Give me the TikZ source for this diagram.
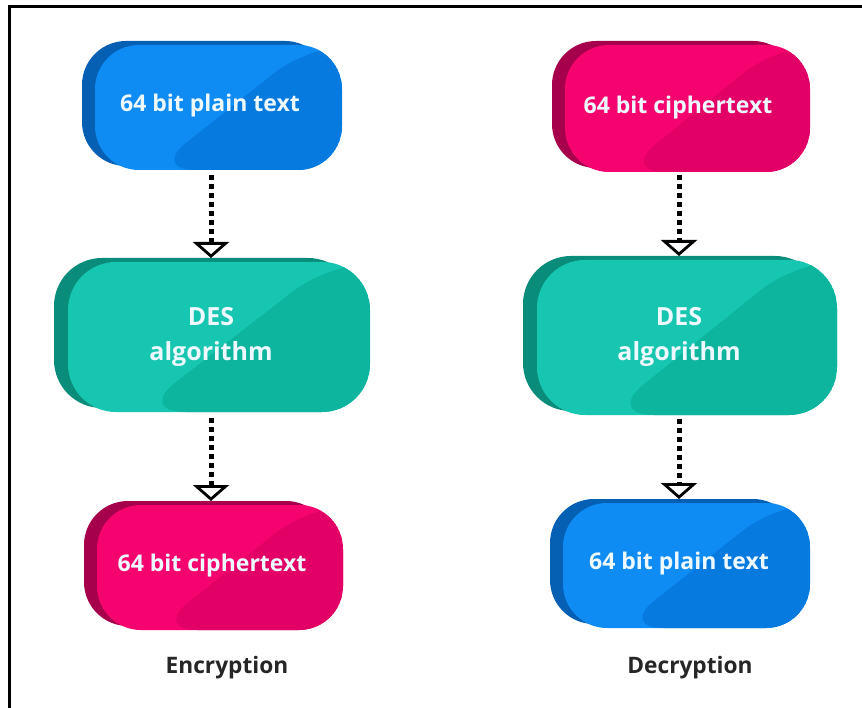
\documentclass[tikz,border=0pt]{standalone}
\usepackage{fontspec}
\setmainfont{Open Sans}
\usetikzlibrary{arrows.meta,shadows,calc}
\definecolor{bluelt}{HTML}{0E8CF4}
\definecolor{bluedk}{HTML}{067ADF}
\definecolor{blueside}{HTML}{0560B4}
\definecolor{pinklt}{HTML}{F5046F}
\definecolor{pinkdk}{HTML}{E20067}
\definecolor{pinkside}{HTML}{A6004C}
\definecolor{teallt}{HTML}{17C6B0}
\definecolor{tealdk}{HTML}{0DB49E}
\definecolor{tealside}{HTML}{0A8C7B}
\definecolor{txtlt}{HTML}{EEF8FF}
\tikzset{
  boxbase/.style={draw=none, rounded corners=44pt, inner sep=0pt},
  twotone/.style={path picture={
      \fill[#1]
        ($(path picture bounding box.south west)!0.23!(path picture bounding box.south east)$) --
        ($(path picture bounding box.north west)!0.87!(path picture bounding box.north east)$) --
        (path picture bounding box.north east) --
        (path picture bounding box.south east) -- cycle;}},
  bluebox/.style={boxbase, fill=bluelt, twotone=bluedk,
      general shadow={fill=blueside, shadow xshift=-13pt, shadow yshift=4pt}},
  pinkbox/.style={boxbase, fill=pinklt, twotone=pinkdk,
      general shadow={fill=pinkside, shadow xshift=-13pt, shadow yshift=4pt}},
  tealbox/.style={boxbase, rounded corners=48pt, fill=teallt, twotone=tealdk,
      general shadow={fill=tealside, shadow xshift=-14pt, shadow yshift=4pt}},
  boxtext/.style={text=txtlt, font=\bfseries\fontsize{23pt}{35pt}\selectfont, align=center},
  destext/.style={text=txtlt, font=\bfseries\fontsize{25pt}{35pt}\selectfont, align=center},
  caption/.style={text=black!85, font=\bfseries\fontsize{22.7pt}{26pt}\selectfont},
  flow/.style={line width=5pt, dash pattern=on 5pt off 4pt,
      -{Triangle[open, fill=white, width=36pt, length=16pt, line width=2.8pt]}},
  frameline/.style={line width=3pt, black}
}
\begin{document}
\begin{tikzpicture}[x=1pt, y=-1pt]
\useasboundingbox (0,0) rectangle (862,708);
\fill[white] (0,0) rectangle (862,708);
% frame
\draw[frameline] (9,708) -- (9,7) -- (862,7);

% left column
\node[bluebox, minimum width=247pt, minimum height=125pt] (L1) at (218.5,107.5) {};
\node[boxtext] (L1t) at (210,106) {64 bit plain text};
\node[tealbox, minimum width=302pt, minimum height=150pt] (L2) at (219,337) {};
\node[destext] (L2t) at (211,337) {DES\\algorithm};
\node[pinkbox, minimum width=246pt, minimum height=125pt] (L3) at (220,567.5) {};
\node[boxtext] (L3t) at (212,566) {64 bit ciphertext};

% right column
\node[pinkbox, minimum width=245pt, minimum height=127pt] (R1) at (687.5,108.5) {};
\node[boxtext] (R1t) at (678,108) {64 bit ciphertext};
\node[tealbox, minimum width=300pt, minimum height=155pt] (R2) at (687,337.5) {};
\node[destext] (R2t) at (679,337) {DES\\algorithm};
\node[bluebox, minimum width=247pt, minimum height=125pt] (R3) at (686.5,565.5) {};
\node[boxtext] (R3t) at (679,564) {64 bit plain text};

% connectors
\coordinate (a1s) at (211,175);
\coordinate (a1e) at (211,258);
\coordinate (a2s) at (211,418);
\coordinate (a2e) at (211,501);
\coordinate (b1s) at (679,175);
\coordinate (b1e) at (679,256);
\coordinate (b2s) at (679,419);
\coordinate (b2e) at (679,499);
\draw[flow] (a1s) -- (a1e);
\draw[flow] (a2s) -- (a2e);
\draw[flow] (b1s) -- (b1e);
\draw[flow] (b2s) -- (b2e);

% captions
\node[caption] (enc) at (227,668) {Encryption};
\node[caption] (dec) at (690,668) {Decryption};
\end{tikzpicture}
\end{document}
